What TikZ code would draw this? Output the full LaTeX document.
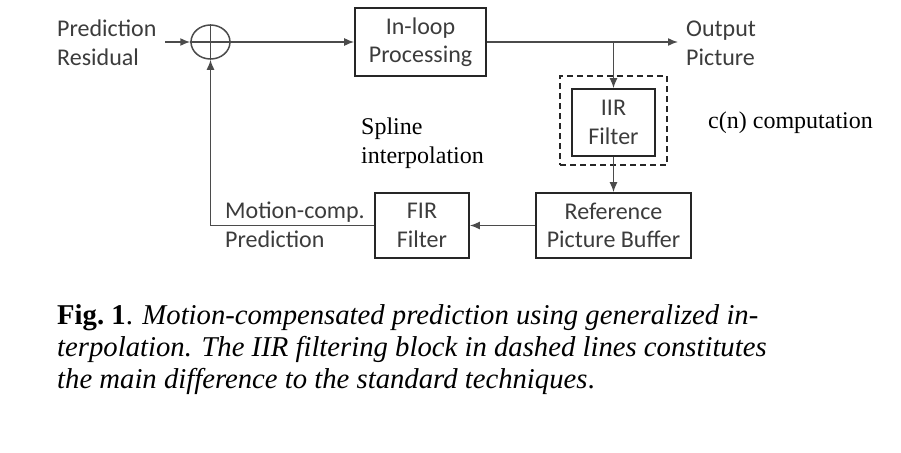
\documentclass[tikz,border=0pt]{standalone}
\usepackage{fontspec}
\setmainfont{Liberation Serif}
\newfontfamily\calib{Carlito}
\usetikzlibrary{arrows.meta,positioning,shapes.geometric}
\definecolor{txtgray}{RGB}{60,60,60}
\definecolor{linegray}{RGB}{75,75,75}

\begin{document}
\begin{tikzpicture}[x=1pt,y=-1pt,
	blk/.style={draw=black!85,line width=1.6pt,align=center,text=txtgray,font=\calib\fontsize{24}{28.5}\selectfont,inner sep=0pt},
	lbl/.style={align=left,text=txtgray,font=\calib\fontsize{24}{28.5}\selectfont,inner sep=3pt},
	note/.style={align=left,font=\fontsize{24}{29}\selectfont,inner sep=3pt},
	flow/.style={draw=linegray,line width=1.5pt,-{Latex[length=10pt,width=8pt]}},
	wire/.style={draw=linegray,line width=1.5pt}]
	\useasboundingbox (0,0) rectangle (901,452);

		\node[lbl, anchor=base west] (resid) at (54, 65) {Prediction\\Residual};
		\coordinate (in) at (165, 42);
		\node[draw=linegray, line width=1.5pt, ellipse, minimum width=39pt, minimum height=34pt, inner sep=0pt] (sum) at (210.5, 42) {};
		\draw[flow] (in) -- (sum.west);
		\draw[wire] (sum.west) -- (sum.east);
		\draw[wire] (sum.north) -- (sum.south);

		\node[blk, minimum width=131pt, minimum height=68pt] (loop) at (420.5, 42) {In-loop\\Processing};
		\draw[flow] (sum.east) -- (loop.west);
		\coordinate (out) at (678, 42);
		\draw[flow] (loop.east) -- (out);
  	\node[lbl, anchor=base west] (outpic) at (683, 65) {Output\\Picture};

		\node[blk, minimum width=83pt, minimum height=67pt] (iir) at (613.5, 122.5) {IIR\\Filter};
		\node[draw=black!85, line width=1.4pt, dash pattern=on 6pt off 4pt, minimum width=107pt, minimum height=89pt] (dashbox) at (613.5, 120.5) {};
		\coordinate (br) at (iir.north |- loop.east);
		\draw[flow] (br) -- (iir.north);

		\node[blk, minimum width=155pt, minimum height=65pt] (ref) at (613.5, 225.5) {Reference\\Picture Buffer};
		\draw[flow] (iir) -- (ref);
		\node[blk, minimum width=94pt, minimum height=65pt] (fir) at (422, 225.5) {FIR\\Filter};
		\draw[flow] (ref) -- (fir);
		\draw[flow] (fir.west) -| (sum.south);
  	\node[lbl, anchor=base west] (mcp) at (222, 247) {Motion-comp.\\Prediction};

		\node[note, anchor=base west] (spline) at (358, 163) {Spline\\interpolation};
		\node[note, anchor=base west] (cn) at (705, 128) {c(n) computation};

		\node[anchor=base west, align=left, inner sep=3pt, font=\fontsize{28.7}{32}\selectfont] (cap) at (54, 388) {\textbf{Fig.~1}. \textit{Motion-compensated prediction using generalized in-}\\\textit{terpolation. The IIR filtering block in dashed lines constitutes}\\\textit{the main difference to the standard techniques}.};

	  \end{tikzpicture}
\end{document}
